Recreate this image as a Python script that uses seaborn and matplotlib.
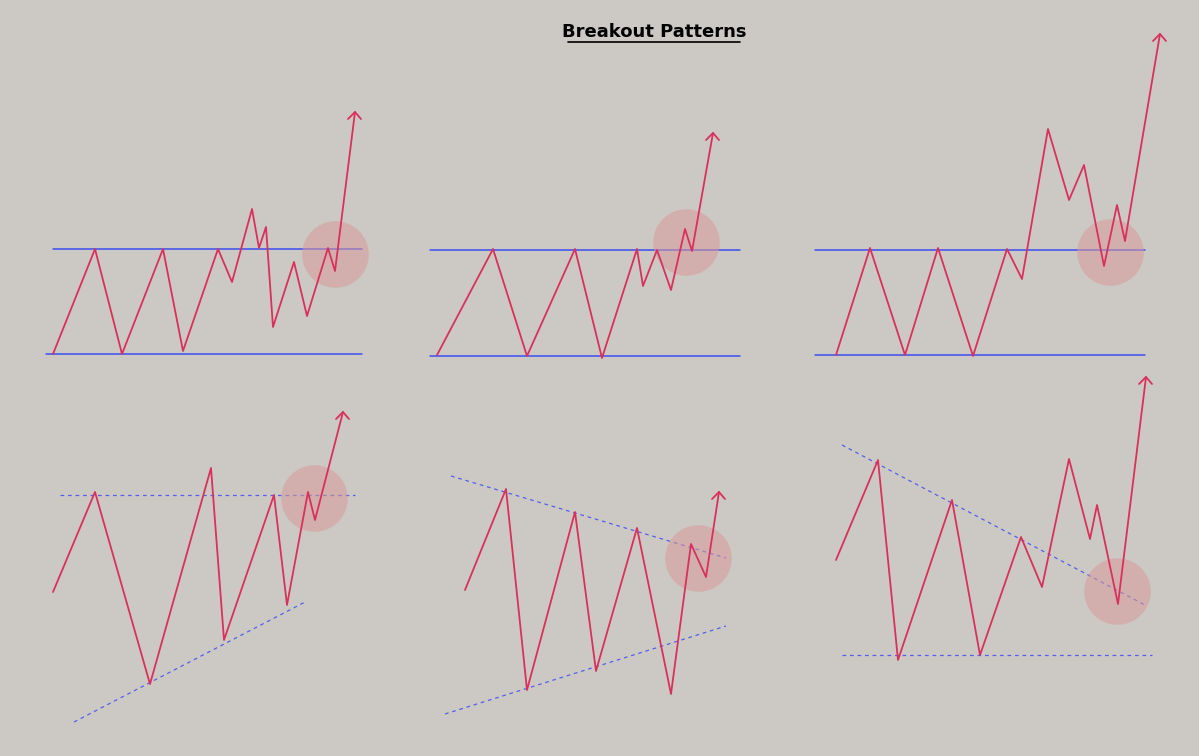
import matplotlib
matplotlib.use("Agg")
import matplotlib.pyplot as plt
import seaborn as sns
import pandas as pd

sns.set_theme(style="white")
BG = "#ccc9c4"
RED = "#d9305c"
BLUE = "#3d4ef0"

# price paths (pixel-space coordinates)
p1_x = [53, 95, 122, 163, 183, 218, 232, 252, 259, 266, 273, 294, 307, 328, 335, 355]
p1_y = [354, 249, 354, 249, 351, 249, 282, 209, 248, 227, 327, 262, 316, 248, 271, 112]
p2_x = [437, 493, 527, 575, 602, 637, 643, 657, 671, 685, 692, 713]
p2_y = [355, 249, 356, 249, 358, 249, 286, 250, 290, 229, 251, 133]
p3_x = [836, 870, 905, 938, 973, 1007, 1022, 1048, 1069, 1084, 1104, 1117, 1125, 1160]
p3_y = [355, 248, 355, 248, 356, 249, 279, 129, 200, 165, 266, 205, 241, 34]
p4_x = [53, 95, 150, 211, 224, 274, 287, 308, 315, 343]
p4_y = [592, 492, 684, 468, 640, 495, 605, 492, 520, 412]
p5_x = [465, 506, 527, 575, 596, 637, 671, 691, 706, 719]
p5_y = [590, 489, 690, 512, 671, 528, 694, 544, 577, 492]
p6_x = [836, 878, 898, 952, 980, 1021, 1042, 1069, 1090, 1097, 1118, 1146]
p6_y = [560, 460, 660, 500, 655, 537, 587, 459, 539, 505, 604, 377]

paths = [(p1_x, p1_y), (p2_x, p2_y), (p3_x, p3_y), (p4_x, p4_y), (p5_x, p5_y), (p6_x, p6_y)]

# support/resistance lines: (x0, y0, x1, y1, dashed)
levels = [
    (53, 249, 362, 249, False), (46, 354, 362, 354, False),
    (430, 250, 740, 250, False), (430, 356, 740, 356, False),
    (815, 250, 1145, 250, False), (815, 355, 1145, 355, False),
    (60, 495, 355, 495, True), (74, 722, 307, 601, True),
    (451, 476, 726, 558, True), (445, 714, 726, 626, True),
    (842, 445, 1145, 605, True), (842, 655, 1152, 655, True),
]
circles_x = [335, 686, 1110, 314, 698, 1117]
circles_y = [254, 242, 252, 498, 558, 591]

fig = plt.figure(figsize=(11.99, 7.56), dpi=100, facecolor=BG)
ax = fig.add_axes([0, 0, 1, 1])
ax.set_facecolor(BG)
ax.set_xlim(0, 1199)
ax.set_ylim(756, 0)
ax.axis("off")

for x0, y0, x1, y1, d in levels:
    ax.plot([x0, x1], [y0, y1], color=BLUE, lw=0.9 if d else 1.1,
            ls=(0, (3, 3)) if d else "-", alpha=0.85 if d else 1)

ax.scatter(circles_x, circles_y, s=2300, color="#d79a9a", alpha=0.55, lw=0, zorder=2)

for i, (xs, ys) in enumerate(paths):
    df = pd.DataFrame({"x": xs, "y": ys})
    sns.lineplot(data=df, x="x", y="y", sort=False, color=RED, lw=1.3, ax=ax, zorder=3)
    ax.plot([xs[-1] - 7, xs[-1], xs[-1] + 6], [ys[-1] + 7, ys[-1], ys[-1] + 7],
            color=RED, lw=1.3, zorder=3)
ax.set_xlim(0, 1199)
ax.set_ylim(756, 0)
ax.axis("off")

ax.text(654, 32, "Breakout Patterns", ha="center", va="center",
        fontsize=13, fontweight="bold", color="black")
ax.plot([568, 740], [41.5, 41.5], color="black", lw=1.2)

fig.savefig("out.png", dpi=100, facecolor=BG)
